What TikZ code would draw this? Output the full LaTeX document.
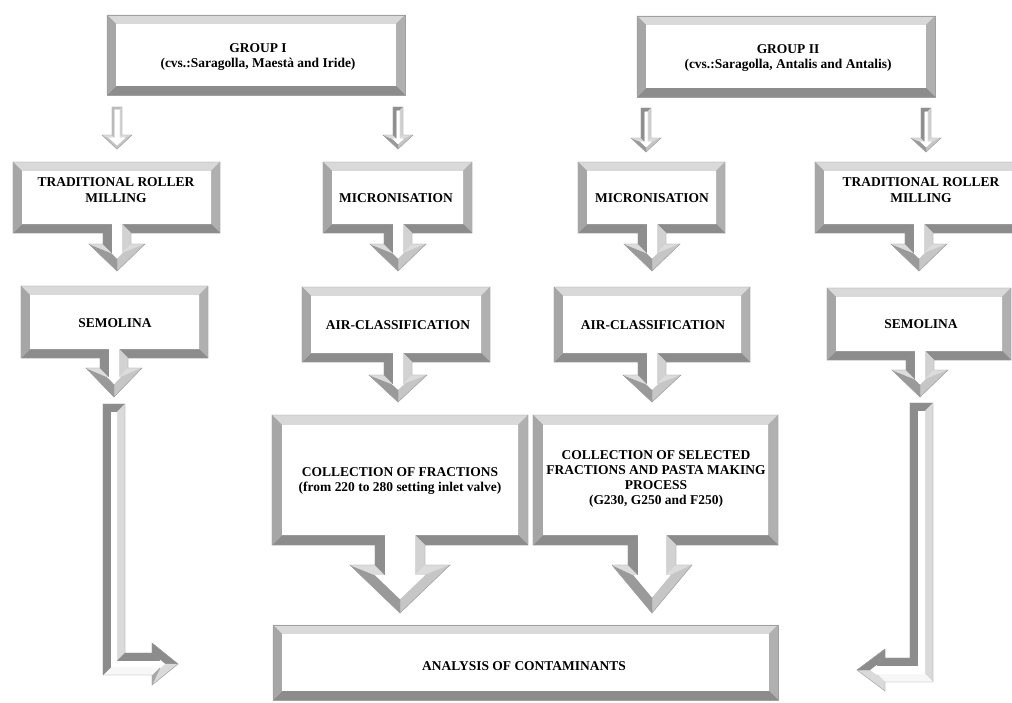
\documentclass[tikz,border=0pt]{standalone}
\usepackage{fontspec}
\setmainfont{Liberation Serif}

\definecolor{cTop}{HTML}{D9D9D9}
\definecolor{cLeft}{HTML}{A6A6A6}
\definecolor{cBot}{HTML}{8C8C8C}
\definecolor{cRight}{HTML}{B0B0B0}
\definecolor{cSR}{HTML}{D2D2D2}
\definecolor{cSL}{HTML}{8E8E8E}
\definecolor{cWing}{HTML}{DCDCDC}
\definecolor{cDR}{HTML}{C6C6C6}
\definecolor{cDL}{HTML}{9A9A9A}
\definecolor{cEdge}{HTML}{A0A0A0}
\definecolor{kDark}{HTML}{8C8C8C}
\definecolor{kMid}{HTML}{A8A8A8}
\definecolor{kLight}{HTML}{DADADA}
\definecolor{kWhite}{HTML}{F7F7F7}

\tikzset{
  labeltext/.style={font=\bfseries\fontsize{11.5}{13}\selectfont, align=center, text=black, inner sep=0pt},
  grouptext/.style={font=\bfseries\fontsize{11.5}{12}\selectfont, align=center, text=black, inner sep=0pt},
  outline/.style={draw=cEdge, line width=0.4pt, line join=miter},
}

% bevel quad
\newcommand\bq[5]{\filldraw[fill=#1,draw=#1,line width=0.25pt,line join=round] (#2) -- (#3) -- (#4) -- (#5) -- cycle;}

% box parameters: L T R B bevel
\newcommand\cbbox[5]{\def\bL{#1}\def\bT{#2}\def\bR{#3}\def\bB{#4}\def\bb{#5}}
% arrow parameters: cx shaft-half head-half headtop tip
\newcommand\cbarr[5]{\def\acx{#1}\def\asw{#2}\def\ahw{#3}\def\aHT{#4}\def\aTip{#5}}

\newcommand\drawplain{%
  \coordinate (P1) at (\bL,\bT);
  \coordinate (P2) at (\bR,\bT);
  \coordinate (P3) at (\bR,\bB);
  \coordinate (P4) at (\bL,\bB);
  \coordinate (Q1) at (\bL+\bb,\bT+\bb);
  \coordinate (Q2) at (\bR-\bb,\bT+\bb);
  \coordinate (Q3) at (\bR-\bb,\bB-\bb);
  \coordinate (Q4) at (\bL+\bb,\bB-\bb);
  \bq{cTop}{P1}{P2}{Q2}{Q1}
  \bq{cRight}{P2}{P3}{Q3}{Q2}
  \bq{cBot}{P3}{P4}{Q4}{Q3}
  \bq{cLeft}{P4}{P1}{Q1}{Q4}
  \fill[white] (Q1) -- (Q2) -- (Q3) -- (Q4) -- cycle;
  \draw[outline] (P1) -- (P2) -- (P3) -- (P4) -- cycle;
}

\newcommand\drawcallout{%
  \pgfmathsetmacro\aLen{sqrt(\ahw*\ahw+(\aTip-\aHT)*(\aTip-\aHT))}%
  \pgfmathsetmacro\ak{\bb*\aLen/\ahw}%
  \pgfmathsetmacro\adx{\ahw*(\aTip-\ak-\aHT-\bb)/(\aTip-\aHT)}%
  \coordinate (P1) at (\bL,\bT);
  \coordinate (P2) at (\bR,\bT);
  \coordinate (P3) at (\bR,\bB);
  \coordinate (P4) at (\acx+\asw,\bB);
  \coordinate (P5) at (\acx+\asw,\aHT);
  \coordinate (P6) at (\acx+\ahw,\aHT);
  \coordinate (P7) at (\acx,\aTip);
  \coordinate (P8) at (\acx-\ahw,\aHT);
  \coordinate (P9) at (\acx-\asw,\aHT);
  \coordinate (P10) at (\acx-\asw,\bB);
  \coordinate (P11) at (\bL,\bB);
  \coordinate (Q1) at (\bL+\bb,\bT+\bb);
  \coordinate (Q2) at (\bR-\bb,\bT+\bb);
  \coordinate (Q3) at (\bR-\bb,\bB-\bb);
  \coordinate (Q4) at (\acx+\asw-\bb,\bB-\bb);
  \coordinate (Q5) at (\acx+\asw-\bb,\aHT+\bb);
  \coordinate (Q6) at (\acx+\adx,\aHT+\bb);
  \coordinate (Q7) at (\acx,\aTip-\ak);
  \coordinate (Q8) at (\acx-\adx,\aHT+\bb);
  \coordinate (Q9) at (\acx-\asw+\bb,\aHT+\bb);
  \coordinate (Q10) at (\acx-\asw+\bb,\bB-\bb);
  \coordinate (Q11) at (\bL+\bb,\bB-\bb);
  \bq{cTop}{P1}{P2}{Q2}{Q1}
  \bq{cRight}{P2}{P3}{Q3}{Q2}
  \bq{cBot}{P3}{P4}{Q4}{Q3}
  \bq{cSR}{P4}{P5}{Q5}{Q4}
  \bq{cWing}{P5}{P6}{Q6}{Q5}
  \bq{cDR}{P6}{P7}{Q7}{Q6}
  \bq{cDL}{P7}{P8}{Q8}{Q7}
  \bq{cWing}{P8}{P9}{Q9}{Q8}
  \bq{cSL}{P9}{P10}{Q10}{Q9}
  \bq{cBot}{P10}{P11}{Q11}{Q10}
  \bq{cLeft}{P11}{P1}{Q1}{Q11}
  \fill[white] (Q1) -- (Q2) -- (Q3) -- (Q4) -- (Q5) -- (Q6) -- (Q7) -- (Q8) -- (Q9) -- (Q10) -- (Q11) -- cycle;
  \draw[outline] (P1) -- (P2) -- (P3) -- (P4) -- (P5) -- (P6) -- (P7) -- (P8) -- (P9) -- (P10) -- (P11) -- cycle;
}

% small down arrow: cx T sw hw HT Tip b
\newcommand\drawsmall[7]{%
  \pgfmathsetmacro\sLen{sqrt(#4*#4+(#6-#5)*(#6-#5))}%
  \pgfmathsetmacro\sk{#7*\sLen/#4}%
  \pgfmathsetmacro\sdx{#4*(#6-\sk-#5-#7)/(#6-#5)}%
  \coordinate (S1) at (#1-#3,#2);
  \coordinate (S2) at (#1+#3,#2);
  \coordinate (S3) at (#1+#3,#5);
  \coordinate (S4) at (#1+#4,#5);
  \coordinate (S5) at (#1,#6);
  \coordinate (S6) at (#1-#4,#5);
  \coordinate (S7) at (#1-#3,#5);
  \coordinate (R1) at (#1-#3+#7,#2+#7);
  \coordinate (R2) at (#1+#3-#7,#2+#7);
  \coordinate (R3) at (#1+#3-#7,#5+#7);
  \coordinate (R4) at (#1+\sdx,#5+#7);
  \coordinate (R5) at (#1,#6-\sk);
  \coordinate (R6) at (#1-\sdx,#5+#7);
  \coordinate (R7) at (#1-#3+#7,#5+#7);
  \bq{cSL}{S1}{S2}{R2}{R1}
  \bq{cSR}{S2}{S3}{R3}{R2}
  \bq{cWing}{S3}{S4}{R4}{R3}
  \bq{cDR}{S4}{S5}{R5}{R4}
  \bq{cDL}{S5}{S6}{R6}{R5}
  \bq{cWing}{S6}{S7}{R7}{R6}
  \bq{cSL}{S7}{S1}{R1}{R7}
  \fill[white] (R1) -- (R2) -- (R3) -- (R4) -- (R5) -- (R6) -- (R7) -- cycle;
  \draw[outline] (S1) -- (S2) -- (S3) -- (S4) -- (S5) -- (S6) -- (S7) -- cycle;
}

\begin{document}
\begin{tikzpicture}[x=0.03cm,y=-0.03cm]
\clip (0,0) rectangle (1012,702);
\fill[white] (0,0) rectangle (1012,702);

% ---- Group boxes ----
\cbbox{107}{15}{405}{95}{9}\drawplain
\node[grouptext] (g1) at (258,57) {GROUP I\\(cvs.:Saragolla, Maestà and Iride)};
\cbbox{637}{16}{935}{97}{9}\drawplain
\node[grouptext] (g2) at (788,58) {GROUP II\\(cvs.:Saragolla, Antalis and Antalis)};

% ---- small arrows ----
\begin{scope}
\definecolor{cSL}{HTML}{BDBDBD}\definecolor{cDL}{HTML}{C4C4C4}
\drawsmall{117}{107}{5}{15}{135}{149}{2.5}
\end{scope}
\drawsmall{398}{107}{5}{15}{135}{149}{3.5}
\drawsmall{646}{108}{5}{15}{138}{152}{3.5}
\drawsmall{926}{108}{5}{15}{138}{152}{3.5}

% ---- row 2 ----
\cbbox{13}{162}{220}{233}{9}\cbarr{117}{14}{28}{244}{271}\drawcallout
\node[labeltext] (trl) at (116,190) {TRADITIONAL ROLLER\\MILLING};
\cbbox{323}{162}{472}{233}{9}\cbarr{398}{14}{28}{244}{271}\drawcallout
\node[labeltext] (mic1) at (396,198) {MICRONISATION};
\cbbox{578}{162}{725}{233}{9}\cbarr{652}{14}{28}{244}{271}\drawcallout
\node[labeltext] (mic2) at (652,198) {MICRONISATION};
\cbbox{815}{162}{1022}{233}{9}\cbarr{919}{14}{28}{244}{271}\drawcallout
\node[labeltext] (trr) at (921,190) {TRADITIONAL ROLLER\\MILLING};

% ---- row 3 ----
\cbbox{21}{286}{208}{358}{9}\cbarr{114}{14}{28}{368}{397}\drawcallout
\node[labeltext] (sem1) at (115,323) {SEMOLINA};
\cbbox{302}{287}{490}{362}{9}\cbarr{398}{14}{29}{375}{402}\drawcallout
\node[labeltext] (air1) at (398,325) {AIR-CLASSIFICATION};
\cbbox{554}{287}{750}{362}{9}\cbarr{652}{14}{29}{375}{402}\drawcallout
\node[labeltext] (air2) at (653,325) {AIR-CLASSIFICATION};
\cbbox{827}{288}{1011}{360}{9}\cbarr{920}{14}{28}{370}{397}\drawcallout
\node[labeltext] (sem2) at (921,324) {SEMOLINA};

% ---- row 4 ----
\cbbox{272}{415}{528}{545}{10}\cbarr{400}{25}{50}{565}{613}\drawcallout
\node[labeltext] (col1) at (400,481) {COLLECTION OF FRACTIONS\\(from 220 to 280 setting inlet valve)};
\cbbox{533}{415}{778}{545}{10}\cbarr{652}{24}{40}{565}{613}\drawcallout
\node[labeltext] (col2) at (656,479) {COLLECTION OF SELECTED\\FRACTIONS AND PASTA MAKING\\PROCESS\\(G230, G250 and F250)};

% ---- analysis ----
\cbbox{273}{625}{778}{700}{9}\drawplain
\node[labeltext] (ana) at (524,666) {ANALYSIS OF CONTAMINANTS};

% ---- left bent arrow ----
\coordinate (A1) at (103,404); \coordinate (A2) at (125,404);
\coordinate (A3) at (125,653); \coordinate (A4) at (152,653);
\coordinate (A5) at (152,643); \coordinate (A6) at (178,664);
\coordinate (A7) at (152,685); \coordinate (A8) at (152,675);
\coordinate (A9) at (103,675);
\coordinate (B1) at (111,412); \coordinate (B2) at (117,412);
\coordinate (B3) at (117,661); \coordinate (B4) at (160,661);
\coordinate (B5) at (160,659.74); \coordinate (B6) at (165.27,664);
\coordinate (B7) at (160,668.26); \coordinate (B8) at (160,667);
\coordinate (B9) at (111,667);
\bq{kDark}{A1}{A2}{B2}{B1}
\bq{kLight}{A2}{A3}{B3}{B2}
\bq{kDark}{A3}{A4}{B4}{B3}
\bq{kDark}{A4}{A5}{B5}{B4}
\bq{kDark}{A5}{A6}{B6}{B5}
\bq{kLight}{A6}{A7}{B7}{B6}
\bq{kMid}{A7}{A8}{B8}{B7}
\bq{kWhite}{A8}{A9}{B9}{B8}
\bq{kDark}{A9}{A1}{B1}{B9}
\fill[white] (B1) -- (B2) -- (B3) -- (B4) -- (B5) -- (B6) -- (B7) -- (B8) -- (B9) -- cycle;
\draw[outline] (A1) -- (A2) -- (A3) -- (A4) -- (A5) -- (A6) -- (A7) -- (A8) -- (A9) -- cycle;

% ---- right bent arrow ----
\coordinate (C1) at (910,403); \coordinate (C2) at (933,403);
\coordinate (C3) at (933,682); \coordinate (C4) at (885,682);
\coordinate (C5) at (885,691); \coordinate (C6) at (857,670);
\coordinate (C7) at (885,649); \coordinate (C8) at (885,658);
\coordinate (C9) at (910,658);
\coordinate (D1) at (918,411); \coordinate (D2) at (925,411);
\coordinate (D3) at (925,674); \coordinate (D4) at (877,674);
\coordinate (D5) at (877,675); \coordinate (D6) at (870.33,670);
\coordinate (D7) at (877,665); \coordinate (D8) at (877,666);
\coordinate (D9) at (918,666);
\bq{kDark}{C1}{C2}{D2}{D1}
\bq{kLight}{C2}{C3}{D3}{D2}
\bq{kWhite}{C3}{C4}{D4}{D3}
\bq{kLight}{C4}{C5}{D5}{D4}
\bq{kLight}{C5}{C6}{D6}{D5}
\bq{kDark}{C6}{C7}{D7}{D6}
\bq{kDark}{C7}{C8}{D8}{D7}
\bq{kDark}{C8}{C9}{D9}{D8}
\bq{kDark}{C9}{C1}{D1}{D9}
\fill[white] (D1) -- (D2) -- (D3) -- (D4) -- (D5) -- (D6) -- (D7) -- (D8) -- (D9) -- cycle;
\draw[outline] (C1) -- (C2) -- (C3) -- (C4) -- (C5) -- (C6) -- (C7) -- (C8) -- (C9) -- cycle;

\end{tikzpicture}
\end{document}
